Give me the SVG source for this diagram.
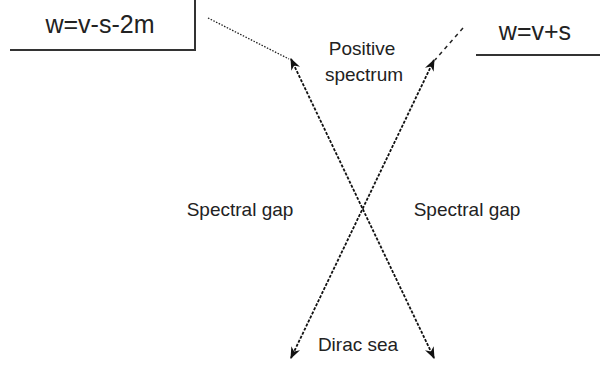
<svg xmlns="http://www.w3.org/2000/svg" width="600" height="367" viewBox="0 0 600 367">
<style>
text{font-family:"Liberation Sans",Arial,sans-serif;fill:#222;text-anchor:middle}
.lbl{font-size:19px}
.eq{font-size:25px}
.frame{stroke:#333;stroke-width:2;fill:none}
.main{stroke:#111;stroke-width:1.8;stroke-dasharray:3 1.5;fill:none}
</style>
<defs>
<marker id="ah" viewBox="0 0 10 10" refX="9" refY="5" markerWidth="12" markerHeight="12" markerUnits="userSpaceOnUse" orient="auto-start-reverse">
<path d="M0,1 L10,5 L0,9 L3,5 z" fill="#111"/>
</marker>
</defs>
<rect width="600" height="367" fill="#fff"/>
<g id="label-left">
<path class="frame" d="M10,50 H195 V0"/>
<text class="eq" x="100" y="33">w=v-s-2m</text>
</g>
<g id="label-right">
<path class="frame" d="M476,55 H600"/>
<text class="eq" x="535" y="40">w=v+s</text>
</g>
<g id="positive">
<text class="lbl" x="362" y="55">Positive</text>
<text class="lbl" x="364" y="81">spectrum</text>
</g>
<g id="gap-left"><text class="lbl" x="240" y="216">Spectral gap</text></g>
<g id="gap-right"><text class="lbl" x="467" y="216">Spectral gap</text></g>
<g id="dirac"><text class="lbl" x="358" y="351">Dirac sea</text></g>
<g id="connectors">
<line class="main" x1="291" y1="59" x2="434" y2="358" marker-start="url(#ah)" marker-end="url(#ah)"/>
<line class="main" x1="434" y1="60" x2="291" y2="358" marker-start="url(#ah)" marker-end="url(#ah)"/>
<path d="M208,18 L289,59" stroke="#222" stroke-width="1.3" stroke-dasharray="1.5 1.5" fill="none"/>
<path d="M463,28 L435,60" stroke="#222" stroke-width="1.5" stroke-dasharray="4 4" fill="none"/>
</g>
</svg>
